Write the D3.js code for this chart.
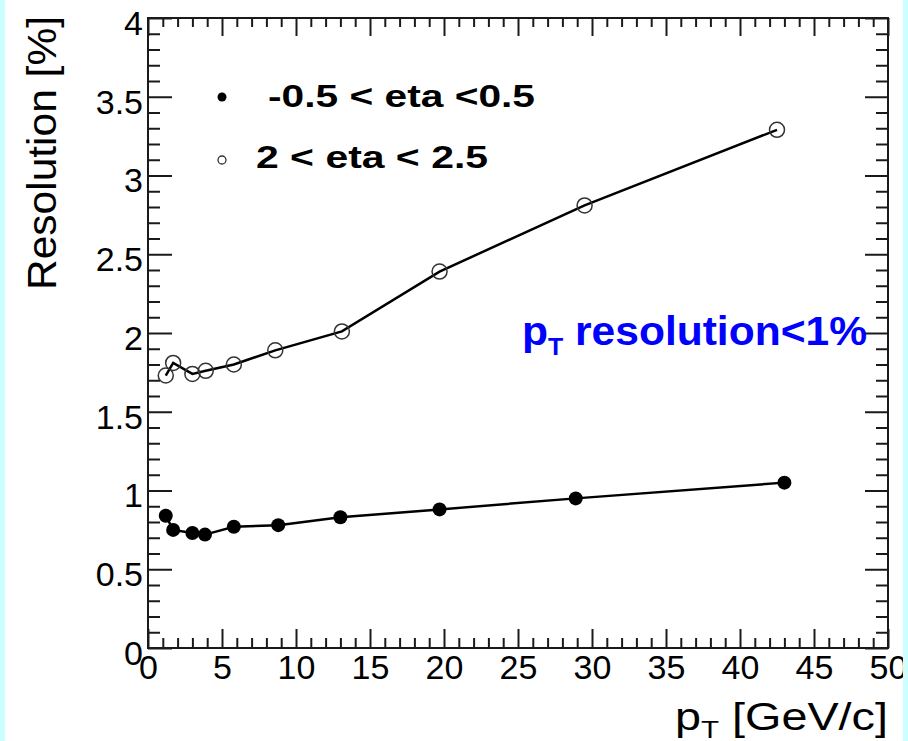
<!DOCTYPE html>
<html>
<head>
<meta charset="utf-8">
<script src="https://cdn.jsdelivr.net/npm/d3@7"></script>
<style>
  html, body { margin: 0; padding: 0; background: #ffffff; overflow: hidden; }
  svg { display: block; }
  text { font-family: "Liberation Sans", Arial, Helvetica, sans-serif; }
</style>
</head>
<body>
<script>
// Momentum resolution vs transverse momentum, two pseudorapidity bins
const ptCentral  = [1.2, 1.7, 3.0, 3.85, 5.8, 8.8, 13.0, 19.7, 28.9, 43.0];
const resCentral = [0.84, 0.75, 0.73, 0.72, 0.77, 0.78, 0.83, 0.88, 0.95, 1.05];
const ptForward  = [1.2, 1.7, 3.0, 3.9, 5.8, 8.6, 13.1, 19.7, 29.5, 42.5];
const resForward = [1.73, 1.81, 1.74, 1.76, 1.80, 1.89, 2.01, 2.39, 2.81, 3.29];

const xTickValues = [0, 5, 10, 15, 20, 25, 30, 35, 40, 45, 50];
const xTickLabels = ["0", "5", "10", "15", "20", "25", "30", "35", "40", "45", "50"];
const yTickValues = [0, 0.5, 1, 1.5, 2, 2.5, 3, 3.5, 4];
const yTickLabels = ["0", "0.5", "1", "1.5", "2", "2.5", "3", "3.5", "4"];
const xMinorValues = d3.range(0, 51, 1).filter(v => v % 5 !== 0);
const yMinorValues = d3.range(0, 41, 1).map(v => v / 10).filter((v, i) => i % 5 !== 0);

const legendLabels = ["-0.5 < eta <0.5", "2 < eta < 2.5"];

const W = 908, H = 741;
const frame = { left: 148, top: 18, right: 888, bottom: 648 };

const svg = d3.select("body").append("svg")
  .attr("width", W).attr("height", H);

// page background with the light cyan side strips
svg.append("rect").attr("x", 0).attr("y", 0).attr("width", W).attr("height", H).attr("fill", "#ffffff");
svg.append("rect").attr("x", 0).attr("y", 0).attr("width", 5).attr("height", H).attr("fill", "#ccffff");

const x = d3.scaleLinear().domain([0, 50]).range([frame.left, frame.right]);
const y = d3.scaleLinear().domain([0, 4]).range([frame.bottom, frame.top]);

const axisColor = "#1a1a1a";
const tickFont = 34;

function styleAxis(g) {
  g.select(".domain").remove();
  g.selectAll(".tick line").attr("stroke", axisColor).attr("stroke-width", 2);
}

// left axis: major + minor ticks pointing inward
const gLeft = svg.append("g").attr("transform", `translate(${frame.left},0)`)
  .call(d3.axisLeft(y).tickValues(yTickValues).tickSizeInner(-24).tickSizeOuter(0)
    .tickPadding(5).tickFormat((d, i) => yTickLabels[i]));
styleAxis(gLeft);
gLeft.selectAll(".tick text")
  .attr("font-size", tickFont).attr("fill", "#000").attr("dy", "0.48em");
svg.append("g").attr("transform", `translate(${frame.left},0)`)
  .call(d3.axisLeft(y).tickValues(yMinorValues).tickSizeInner(-12).tickSizeOuter(0).tickFormat(""))
  .call(styleAxis);

// right axis mirror ticks
svg.append("g").attr("transform", `translate(${frame.right},0)`)
  .call(d3.axisRight(y).tickValues(yTickValues).tickSizeInner(-23).tickSizeOuter(0).tickFormat(""))
  .call(styleAxis);
svg.append("g").attr("transform", `translate(${frame.right},0)`)
  .call(d3.axisRight(y).tickValues(yMinorValues).tickSizeInner(-12).tickSizeOuter(0).tickFormat(""))
  .call(styleAxis);

// bottom axis
const gBottom = svg.append("g").attr("transform", `translate(0,${frame.bottom})`)
  .call(d3.axisBottom(x).tickValues(xTickValues).tickSizeInner(-19).tickSizeOuter(0)
    .tickPadding(7).tickFormat((d, i) => xTickLabels[i]));
styleAxis(gBottom);
gBottom.selectAll(".tick text")
  .attr("font-size", tickFont).attr("fill", "#000");
svg.append("g").attr("transform", `translate(0,${frame.bottom})`)
  .call(d3.axisBottom(x).tickValues(xMinorValues).tickSizeInner(-10).tickSizeOuter(0).tickFormat(""))
  .call(styleAxis);

// top axis mirror ticks
svg.append("g").attr("transform", `translate(0,${frame.top})`)
  .call(d3.axisTop(x).tickValues(xTickValues).tickSizeInner(-18).tickSizeOuter(0).tickFormat(""))
  .call(styleAxis);
svg.append("g").attr("transform", `translate(0,${frame.top})`)
  .call(d3.axisTop(x).tickValues(xMinorValues).tickSizeInner(-9).tickSizeOuter(0).tickFormat(""))
  .call(styleAxis);

// frame
svg.append("rect")
  .attr("x", frame.left).attr("y", frame.top)
  .attr("width", frame.right - frame.left).attr("height", frame.bottom - frame.top)
  .attr("fill", "none").attr("stroke", axisColor).attr("stroke-width", 2);

// series
const central = ptCentral.map((p, i) => ({ p, r: resCentral[i] }));
const forward = ptForward.map((p, i) => ({ p, r: resForward[i] }));
const line = d3.line().x(d => x(d.p)).y(d => y(d.r));

svg.append("path").datum(forward).attr("d", line)
  .attr("fill", "none").attr("stroke", "#000").attr("stroke-width", 2.5);
svg.append("path").datum(central).attr("d", line)
  .attr("fill", "none").attr("stroke", "#000").attr("stroke-width", 2.5);

svg.append("g").selectAll("circle").data(forward).join("circle")
  .attr("cx", d => x(d.p)).attr("cy", d => y(d.r)).attr("r", 7.5)
  .attr("fill", "none").attr("stroke", "#333").attr("stroke-width", 1.5);
svg.append("g").selectAll("circle").data(central).join("circle")
  .attr("cx", d => x(d.p)).attr("cy", d => y(d.r)).attr("r", 7)
  .attr("fill", "#000");

// legend
svg.append("circle").attr("cx", 222).attr("cy", 97).attr("r", 4.5).attr("fill", "#000");
svg.append("circle").attr("cx", 222).attr("cy", 160).attr("r", 4)
  .attr("fill", "none").attr("stroke", "#333").attr("stroke-width", 1.3);
svg.append("text").attr("x", 268).attr("y", 107)
  .attr("font-size", 32).attr("font-weight", "bold")
  .attr("textLength", 267).attr("lengthAdjust", "spacingAndGlyphs")
  .text(legendLabels[0]);
svg.append("text").attr("x", 256).attr("y", 168)
  .attr("font-size", 32).attr("font-weight", "bold")
  .attr("textLength", 232).attr("lengthAdjust", "spacingAndGlyphs")
  .text(legendLabels[1]);

// annotation
const note = svg.append("text").attr("x", 522).attr("y", 345)
  .attr("font-size", 41).attr("font-weight", "bold").attr("fill", "#0000ff")
  .attr("textLength", 345).attr("lengthAdjust", "spacingAndGlyphs");
note.append("tspan").text("p");
note.append("tspan").attr("font-size", 24).attr("dy", 10).text("T");
note.append("tspan").attr("dy", -10).text(" resolution<1%");

// axis titles
svg.append("text")
  .attr("transform", "translate(56,16) rotate(-90)")
  .attr("text-anchor", "end").attr("font-size", 40)
  .attr("textLength", 274).attr("lengthAdjust", "spacingAndGlyphs")
  .text("Resolution [%]");

const xt = svg.append("text").attr("x", 888).attr("y", 730)
  .attr("text-anchor", "end").attr("font-size", 38)
  .attr("textLength", 213).attr("lengthAdjust", "spacingAndGlyphs");
xt.append("tspan").text("p");
xt.append("tspan").attr("font-size", 24).attr("dy", 8).text("T");
xt.append("tspan").attr("dy", -8).text(" [GeV/c]");

// right-hand cyan strip drawn last so it clips the last tick label
svg.append("rect").attr("x", 903).attr("y", 0).attr("width", 5).attr("height", H).attr("fill", "#ccffff");
</script>
</body>
</html>
